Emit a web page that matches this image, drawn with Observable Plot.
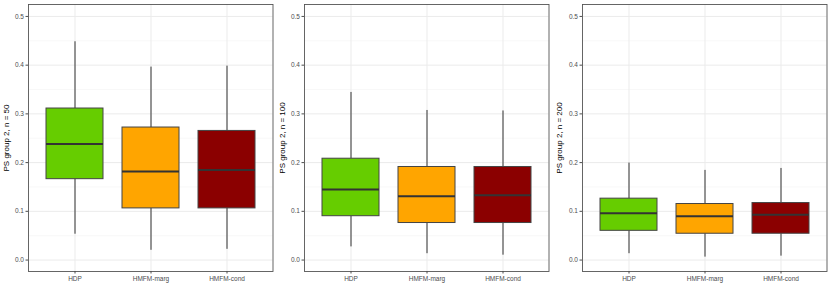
<!DOCTYPE html>
<html>
<head>
<meta charset="utf-8">
<script src="https://cdn.jsdelivr.net/npm/d3@7"></script>
<script src="https://cdn.jsdelivr.net/npm/@observablehq/plot@0.6"></script>
<style>
  html, body { margin: 0; padding: 0; background: white; }
  #chart { position: relative; width: 830px; height: 297px; background: white; }
  #chart > svg { position: absolute; top: 0; }
</style>
</head>
<body>
<div id="chart"></div>
<script>
// Categories and panels
const methods = ["HDP", "HMFM-marg", "HMFM-cond"];
const sampleSizes = [50, 100, 200];
const fillColors = ["#66CD00", "#FFA500", "#8B0000"];
const yTicks = [0, 0.1, 0.2, 0.3, 0.4, 0.5];
const yMinorTicks = [0.05, 0.15, 0.25, 0.35, 0.45];

// Box statistics, one row per panel (n = 50, 100, 200), columns follow methods
const whiskerLow  = [[0.053, 0.020, 0.022], [0.027, 0.013, 0.010], [0.013, 0.006, 0.008]];
const quartile1   = [[0.166, 0.106, 0.106], [0.090, 0.076, 0.076], [0.060, 0.054, 0.054]];
const medians     = [[0.238, 0.182, 0.185], [0.145, 0.131, 0.133], [0.096, 0.090, 0.093]];
const quartile3   = [[0.311, 0.272, 0.265], [0.208, 0.191, 0.191], [0.126, 0.115, 0.117]];
const whiskerHigh = [[0.448, 0.396, 0.398], [0.344, 0.307, 0.306], [0.199, 0.184, 0.188]];

const panelLefts = [0, 276, 553];
const panelWidths = [276, 276, 277];
const font = "'Liberation Sans', Arial, Helvetica, sans-serif";

function makePanel(i) {
  const data = methods.map((m, j) => ({
    method: m,
    lo: whiskerLow[i][j],
    q1: quartile1[i][j],
    med: medians[i][j],
    q3: quartile3[i][j],
    hi: whiskerHigh[i][j]
  }));
  const W = panelWidths[i];
  const mL = i === 2 ? 29 : 28;
  const title = `PS group 2, n = ${sampleSizes[i]}`;
  return Plot.plot({
    width: W,
    height: 297,
    marginLeft: mL,
    marginRight: W - mL - 244.5,
    marginTop: 4,
    marginBottom: 26,
    style: { fontFamily: font, fontSize: "6.5px", background: "white", color: "#4d4d4d", overflow: "visible" },
    x: { type: "band", domain: methods, paddingInner: 0.25, paddingOuter: 0.225, align: 0.5 },
    y: { domain: [-0.0235, 0.5245] },
    color: { domain: methods, range: fillColors },
    marks: [
      Plot.ruleY(yMinorTicks, { stroke: "#f3f3f3", strokeWidth: 0.6 }),
      Plot.ruleY(yTicks, { stroke: "#ebebeb", strokeWidth: 1 }),
      Plot.ruleX(methods, { stroke: "#ebebeb", strokeWidth: 1 }),
      Plot.ruleX(data, { x: "method", y1: "lo", y2: "q1", stroke: "#333333", strokeWidth: 1 }),
      Plot.ruleX(data, { x: "method", y1: "q3", y2: "hi", stroke: "#333333", strokeWidth: 1 }),
      Plot.barY(data, { x: "method", y1: "q1", y2: "q3", fill: "method", stroke: "#444444", strokeWidth: 1 }),
      Plot.tickY(data, { x: "method", y: "med", stroke: "#333333", strokeWidth: 2 }),
      Plot.frame({ stroke: "#555555", strokeWidth: 0.9 }),
      Plot.axisY({ ticks: yTicks, tickFormat: ".1f", tickSize: 2.5, tickPadding: 2, label: null }),
      Plot.axisX({ tickSize: 2.5, tickPadding: 2, label: null }),
      Plot.text([title], {
        frameAnchor: "left", dx: -mL + 6.3, rotate: -90,
        fontSize: 8, fill: "black", textAnchor: "middle", lineAnchor: "middle"
      })
    ]
  });
}

const chart = document.getElementById("chart");
for (let i = 0; i < 3; i++) {
  const svg = makePanel(i);
  svg.style.left = panelLefts[i] + "px";
  chart.appendChild(svg);
}
</script>
</body>
</html>
